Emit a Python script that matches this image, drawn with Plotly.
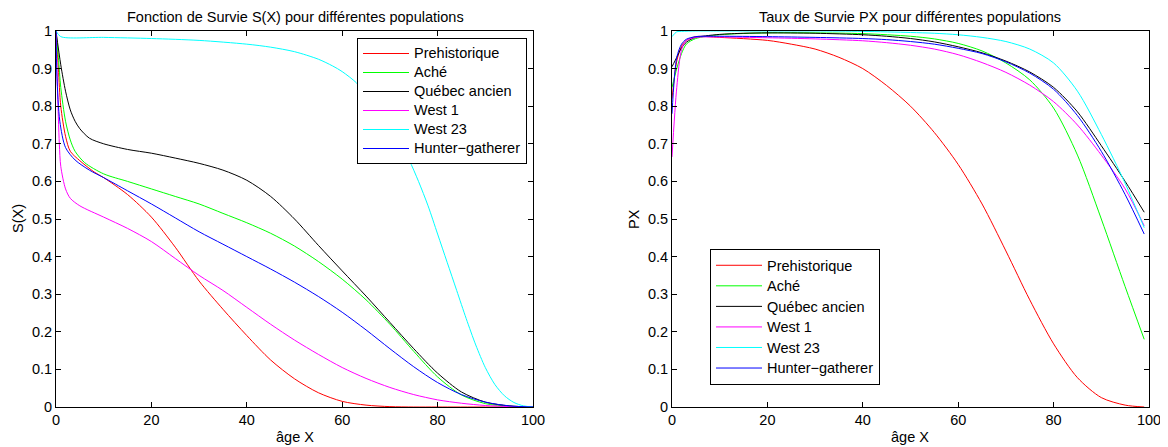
import plotly.graph_objects as go

# ---------- Left: survival function S(X) ----------
names = ["Prehistorique", "Aché", "Québec ancien", "West 1", "West 23", "Hunter\u2212gatherer"]
colors = ["#ff0000", "#00ff00", "#000000", "#ff00ff", "#00ffff", "#0000ff"]

s_pre_x = [0, 0.5, 1, 2, 3, 5, 8, 10, 15, 20, 25, 30, 35, 40, 45, 50, 55, 60, 65, 70, 75, 80, 90, 100]
s_pre_y = [1, 0.9, 0.8, 0.72, 0.68, 0.655, 0.625, 0.61, 0.565, 0.505, 0.425, 0.335, 0.26, 0.19, 0.125, 0.075, 0.038, 0.015, 0.005, 0.001, 0, 0, 0, 0]

s_ache_x = [0, 0.5, 1, 2, 3, 4, 6, 10, 15, 20, 25, 30, 35, 40, 45, 50, 55, 60, 65, 70, 75, 80, 85, 90, 95, 100]
s_ache_y = [1, 0.93, 0.85, 0.76, 0.71, 0.68, 0.65, 0.62, 0.60, 0.58, 0.56, 0.54, 0.515, 0.49, 0.462, 0.428, 0.387, 0.34, 0.285, 0.22, 0.148, 0.08, 0.032, 0.009, 0.002, 0]

s_queb_x = [0, 1, 2, 3, 4, 5, 7, 10, 15, 20, 25, 30, 35, 40, 45, 50, 55, 60, 65, 70, 75, 80, 85, 90, 95, 100]
s_queb_y = [1, 0.91, 0.84, 0.79, 0.76, 0.74, 0.715, 0.70, 0.685, 0.675, 0.662, 0.648, 0.63, 0.603, 0.56, 0.5, 0.43, 0.362, 0.295, 0.225, 0.155, 0.09, 0.04, 0.013, 0.003, 0]

s_w1_x = [0, 0.3, 0.7, 1, 2, 3, 5, 10, 15, 20, 25, 30, 35, 40, 45, 50, 55, 60, 65, 70, 75, 80, 85, 90, 95, 100]
s_w1_y = [1, 0.85, 0.7, 0.64, 0.58, 0.555, 0.535, 0.505, 0.475, 0.44, 0.395, 0.35, 0.31, 0.265, 0.22, 0.178, 0.14, 0.105, 0.076, 0.052, 0.033, 0.019, 0.01, 0.004, 0.001, 0]

s_w23_x = [0, 1, 10, 20, 30, 40, 45, 50, 55, 58, 60, 63, 66, 70, 72, 74, 76, 78, 80, 82, 84, 86, 88, 90, 92, 94, 96, 98, 100]
s_w23_y = [1, 0.985, 0.983, 0.98, 0.975, 0.965, 0.957, 0.945, 0.925, 0.907, 0.892, 0.862, 0.818, 0.745, 0.705, 0.658, 0.6, 0.535, 0.46, 0.385, 0.31, 0.235, 0.165, 0.105, 0.06, 0.03, 0.012, 0.003, 0]

s_hg_x = [0, 0.2, 0.8, 2, 4, 7, 10, 15, 20, 25, 30, 35, 40, 45, 50, 55, 60, 65, 70, 75, 80, 85, 90, 95, 100]
s_hg_y = [1, 0.88, 0.76, 0.69, 0.657, 0.63, 0.61, 0.575, 0.54, 0.503, 0.466, 0.433, 0.4, 0.367, 0.332, 0.294, 0.252, 0.205, 0.155, 0.107, 0.065, 0.033, 0.013, 0.003, 0]

# ---------- Right: survival rate PX ----------
p_pre_x = [0, 1, 2, 3, 5, 10, 20, 25, 30, 35, 40, 45, 50, 55, 60, 65, 70, 75, 80, 85, 90, 95, 99]
p_pre_y = [0.82, 0.92, 0.96, 0.975, 0.985, 0.983, 0.975, 0.965, 0.952, 0.93, 0.9, 0.855, 0.8, 0.73, 0.645, 0.54, 0.415, 0.285, 0.168, 0.078, 0.025, 0.005, 0]

p_ache_x = [0, 1, 2, 3, 5, 10, 20, 30, 40, 50, 55, 60, 65, 70, 75, 80, 85, 90, 95, 99]
p_ache_y = [0.85, 0.9, 0.94, 0.965, 0.98, 0.99, 0.995, 0.995, 0.993, 0.986, 0.979, 0.967, 0.947, 0.915, 0.87, 0.795, 0.67, 0.5, 0.32, 0.18]

p_queb_x = [0, 1, 2, 3, 4, 5, 7, 10, 15, 20, 30, 40, 45, 50, 55, 60, 65, 70, 75, 80, 85, 90, 95, 99]
p_queb_y = [0.905, 0.93, 0.955, 0.97, 0.978, 0.983, 0.987, 0.991, 0.994, 0.995, 0.994, 0.99, 0.986, 0.98, 0.971, 0.958, 0.942, 0.92, 0.891, 0.85, 0.785, 0.695, 0.6, 0.518]

p_w1_x = [0, 1, 2, 3, 5, 10, 20, 30, 40, 45, 50, 55, 60, 65, 70, 75, 80, 85, 90, 95, 99]
p_w1_y = [0.665, 0.85, 0.95, 0.975, 0.983, 0.984, 0.982, 0.979, 0.974, 0.969, 0.962, 0.952, 0.937, 0.916, 0.89, 0.856, 0.812, 0.75, 0.67, 0.58, 0.482]

p_w23_x = [0, 1, 2, 5, 10, 20, 30, 40, 50, 55, 60, 65, 70, 75, 80, 85, 90, 95, 99]
p_w23_y = [0.985, 0.998, 0.999, 1.0, 1.0, 1.0, 1.0, 0.999, 0.996, 0.994, 0.99, 0.983, 0.972, 0.952, 0.915, 0.84, 0.725, 0.595, 0.477]

p_hg_x = [0, 1, 2, 3, 5, 10, 20, 30, 40, 45, 50, 55, 60, 65, 70, 75, 80, 85, 90, 95, 99]
p_hg_y = [0.78, 0.93, 0.965, 0.978, 0.985, 0.986, 0.985, 0.983, 0.98, 0.977, 0.972, 0.965, 0.954, 0.94, 0.918, 0.888, 0.845, 0.775, 0.68, 0.565, 0.46]

left_series = [(s_pre_x, s_pre_y), (s_ache_x, s_ache_y), (s_queb_x, s_queb_y),
               (s_w1_x, s_w1_y), (s_w23_x, s_w23_y), (s_hg_x, s_hg_y)]
right_series = [(p_pre_x, p_pre_y), (p_ache_x, p_ache_y), (p_queb_x, p_queb_y),
                (p_w1_x, p_w1_y), (p_w23_x, p_w23_y), (p_hg_x, p_hg_y)]

FONT = "Liberation Sans, Arial, Helvetica, sans-serif"
FS = 14.5

def lab(n):
    return '<span style="font-size:14.5px">' + n + '</span>'

fig = go.Figure()
for (x, y), n, c in zip(left_series, names, colors):
    fig.add_trace(go.Scatter(x=x, y=y, mode="lines", name=lab(n),
                             line=dict(color=c, width=1, shape="spline", smoothing=0.8),
                             xaxis="x", yaxis="y", legend="legend"))
for (x, y), n, c in zip(right_series, names, colors):
    fig.add_trace(go.Scatter(x=x, y=y, mode="lines", name=lab(n),
                             line=dict(color=c, width=1, shape="spline", smoothing=0.8),
                             xaxis="x2", yaxis="y2", legend="legend2"))

# page body has an 8px margin: the figure occupies 8..1168 x 8..447
OFF = 8
W, H = 1168 - OFF, 447 - OFF
def px(v): return (v - OFF) / W
def py(v): return (447 - v) / H

axis_common = dict(showline=True, linecolor="black", linewidth=1, mirror="ticks",
                   ticks="inside", ticklen=5, tickcolor="black", showgrid=False,
                   zeroline=False, automargin=False,
                   tickfont=dict(family=FONT, size=FS, color="black"))

yt = [0, 0.1, 0.2, 0.3, 0.4, 0.5, 0.6, 0.7, 0.8, 0.9, 1]
ytl = ["0", "0.1", "0.2", "0.3", "0.4", "0.5", "0.6", "0.7", "0.8", "0.9", "1"]
xt = [0, 20, 40, 60, 80, 100]

fig.update_layout(
    width=W, height=H,
    margin=dict(l=0, r=0, t=0, b=0, pad=0, autoexpand=False),
    paper_bgcolor="white", plot_bgcolor="white",
    font=dict(family=FONT, size=FS, color="black"),
    xaxis=dict(domain=[px(56), px(533)], range=[0, 100], tickvals=xt, anchor="y", **axis_common),
    yaxis=dict(domain=[py(407), py(31)], range=[0, 1], tickvals=yt, ticktext=ytl, anchor="x", **axis_common),
    xaxis2=dict(domain=[px(672), px(1149)], range=[0, 100], tickvals=xt, anchor="y2", **axis_common),
    yaxis2=dict(domain=[py(407), py(31)], range=[0, 1], tickvals=yt, ticktext=ytl, anchor="x2", **axis_common),
    legend=dict(x=px(527), y=py(38), xanchor="right", yanchor="top",
                bordercolor="black", borderwidth=1, bgcolor="white", itemwidth=46,
                font=dict(family=FONT, size=11.5, color="black"), tracegroupgap=0),
    legend2=dict(x=px(710), y=py(249), xanchor="left", yanchor="top",
                 bordercolor="black", borderwidth=1, bgcolor="white", itemwidth=46,
                 font=dict(family=FONT, size=13.5, color="black"), tracegroupgap=0),
    showlegend=True,
    annotations=[
        dict(text="Fonction de Survie S(X) pour différentes populations", x=px(295), y=py(16.5),
             xref="paper", yref="paper", showarrow=False, xanchor="center", yanchor="middle", borderpad=0),
        dict(text="Taux de Survie PX pour différentes populations", x=px(910), y=py(16.5),
             xref="paper", yref="paper", showarrow=False, xanchor="center", yanchor="middle", borderpad=0),
        dict(text="âge X", x=px(295), y=py(437), xref="paper", yref="paper",
             showarrow=False, xanchor="center", yanchor="middle"),
        dict(text="âge X", x=px(910), y=py(437), xref="paper", yref="paper",
             showarrow=False, xanchor="center", yanchor="middle"),
        dict(text="S(X)", x=px(18), y=py(219), xref="paper", yref="paper",
             showarrow=False, xanchor="center", yanchor="middle", textangle=-90),
        dict(text="PX", x=px(634), y=py(219), xref="paper", yref="paper",
             showarrow=False, xanchor="center", yanchor="middle", textangle=-90),
    ],
)

fig.write_html("out.html")
